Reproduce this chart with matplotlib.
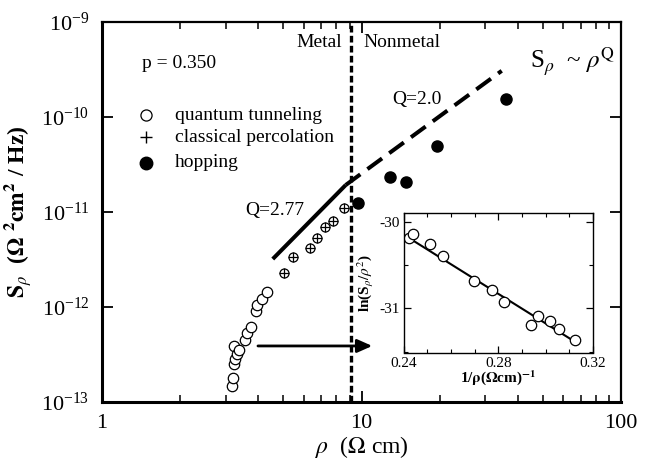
import matplotlib
matplotlib.use("Agg")
import matplotlib.pyplot as plt
import numpy as np
from matplotlib.ticker import (LogLocator, NullFormatter, NullLocator, MultipleLocator,
                               FixedLocator, FixedFormatter, LogFormatterMathtext)

plt.rcParams['font.family'] = ['Liberation Serif', 'DejaVu Serif']
plt.rcParams['mathtext.fontset'] = 'stix'

# ---- data ----
tunnel_rho = [3.18, 3.21, 3.23, 3.26, 3.23, 3.32, 3.38, 3.56, 3.63, 3.74, 3.92, 3.97, 4.12, 4.34]
tunnel_S = [1.49e-13, 1.80e-13, 2.51e-13, 2.84e-13, 3.89e-13, 3.20e-13, 3.53e-13, 4.5e-13,
            5.3e-13, 6.1e-13, 9.1e-13, 1.04e-12, 1.2e-12, 1.45e-12]
perc_rho = [5.04, 5.46, 6.33, 6.72, 7.23, 7.79, 8.58]
perc_S = [2.30e-12, 3.34e-12, 4.15e-12, 5.29e-12, 6.9e-12, 8.0e-12, 1.09e-11]
hop_rho = [9.72, 12.9, 14.85, 19.5, 35.9]
hop_S = [1.25e-11, 2.35e-11, 2.08e-11, 4.95e-11, 1.53e-10]

# power-law guide lines S ~ rho^Q
Q_metal = 2.77
metal_rho = [4.55, 8.69]
metal_S0 = 3.2e-12
Q_nonmetal = 2.0
nonmetal_rho = [8.69, 34.7]
rho_c = 9.1   # metal / nonmetal boundary

x_ticks = [1, 10, 100]
x_ticklabels = ['1', '10', '100']
y_ticks = [1e-13, 1e-12, 1e-11, 1e-10, 1e-9]

# inset: ln(S/rho^2) vs 1/rho
inv_rho = [0.2424, 0.2442, 0.2513, 0.2566, 0.2699, 0.2775, 0.2825, 0.2939, 0.2969, 0.3019, 0.3057, 0.3124]
ln_S = [-30.18, -30.14, -30.26, -30.39, -30.68, -30.79, -30.93, -31.19, -31.09, -31.15, -31.24, -31.36]
fit_x = [0.2414, 0.3103]
fit_y = [-30.17, -31.35]
inset_xticks = [0.24, 0.28, 0.32]
inset_xticklabels = ['0.24', '0.28', '0.32']
inset_yticks = [-31, -30]
inset_yticklabels = ['-31', '-30']

W, H = 659, 466
fig = plt.figure(figsize=(W / 100, H / 100), dpi=100)
ax = fig.add_axes([102 / W, (H - 402) / H, (621 - 102) / W, (402 - 22) / H])
ax.set_xscale('log')
ax.set_yscale('log')
ax.set_xlim(1, 100)
ax.set_ylim(1e-13, 1e-9)

for s in ax.spines.values():
    s.set_linewidth(1.6)
ax.spines['left'].set_linewidth(2.2)
ax.spines['bottom'].set_linewidth(2.2)

ax.xaxis.set_major_locator(FixedLocator(x_ticks))
ax.xaxis.set_major_formatter(FixedFormatter(x_ticklabels))
ax.xaxis.set_minor_locator(FixedLocator([m * d for d in (1, 10) for m in range(2, 10)]))
ax.xaxis.set_minor_formatter(NullFormatter())
ax.yaxis.set_major_locator(FixedLocator(y_ticks))
ax.yaxis.set_major_formatter(LogFormatterMathtext())
ax.yaxis.set_minor_locator(NullLocator())
ax.yaxis.set_minor_formatter(NullFormatter())
ax.tick_params(which='major', direction='in', length=8, width=1.3, labelsize=16,
               top=True, right=True, pad=9)
ax.tick_params(which='minor', direction='in', length=5, width=1.1, top=True, right=False, left=False)

# data
ax.plot(tunnel_rho, tunnel_S, 'o', ms=7.5, mfc='white', mec='black', mew=0.9, zorder=4)
ax.plot(perc_rho, perc_S, 'o', ms=6.5, mfc='white', mec='black', mew=0.9, zorder=4)
ax.plot(perc_rho, perc_S, '+', ms=6.5, color='black', mew=0.9, zorder=5)
ax.plot(hop_rho, hop_S, 'o', ms=8, color='black', zorder=4)

r1 = np.array(metal_rho)
ax.plot(r1, metal_S0 * (r1 / r1[0]) ** Q_metal, '-', color='black', lw=2.9, solid_capstyle='butt')
S_join = metal_S0 * (r1[1] / r1[0]) ** Q_metal
r2 = np.array(nonmetal_rho)
ln2, = ax.plot(r2, S_join * (r2 / r2[0]) ** Q_nonmetal, color='black', lw=2.9)
ln2.set_dashes([4.5, 2.2])
ln2.set_dash_capstyle('butt')

vl = ax.axvline(rho_c, color='black', lw=2.4, zorder=3)
vl.set_dashes([2, 1])

# arrow
ax.annotate('', xy=(11.0, 3.89e-13), xytext=(3.99, 3.89e-13),
            arrowprops=dict(arrowstyle='-|>,head_length=0.9,head_width=0.4', color='black', lw=2.0,
                            shrinkA=0, shrinkB=0), zorder=6)

# texts
ax.text(0.0765, 0.892, 'p = 0.350', transform=ax.transAxes, fontsize=14, ha='left', va='center')
leg_y = [0.755, 0.697, 0.629]
ax.plot([0.0848], [leg_y[0]], 'o', ms=8, mfc='white', mec='black', mew=0.9, transform=ax.transAxes, clip_on=False)
ax.plot([0.0848], [leg_y[1]], '+', ms=8.5, color='black', mew=1.0, transform=ax.transAxes, clip_on=False)
ax.plot([0.0848], [leg_y[2]], 'o', ms=9, color='black', transform=ax.transAxes, clip_on=False)
for y, t in zip(leg_y, ['quantum tunneling', 'classical percolation', 'hopping']):
    ax.text(0.1407, y, t, transform=ax.transAxes, fontsize=14, ha='left', va='center')

ax.text(0.4624, 0.945, 'Metal', transform=ax.transAxes, fontsize=14, ha='right', va='center')
ax.text(0.503, 0.945, 'Nonmetal', transform=ax.transAxes, fontsize=14, ha='left', va='center')
ax.text(0.8247, 0.895, r'S$_{\rho}$  ~ $\rho^{\mathrm{Q}}$', transform=ax.transAxes, fontsize=18,
        ha='left', va='center')
ax.text(0.559, 0.795, 'Q=2.0', transform=ax.transAxes, fontsize=14, ha='left', va='center')
ax.text(0.2755, 0.505, 'Q=2.77', transform=ax.transAxes, fontsize=14, ha='left', va='center')

ax.set_xlabel(r'$\rho$  ($\Omega$ cm)', fontsize=17, labelpad=0)
ax.set_ylabel(r'$\mathbf{S}_{\rho}$  ($\mathbf{\Omega}$ $^{\mathbf{2}}$$\mathbf{cm}^{\mathbf{2}}$ / Hz)',
              fontsize=17, fontweight='bold', labelpad=5)

# ---- inset ----
axi = fig.add_axes([403.5 / W, (H - 352.5) / H, (593 - 403.5) / W, (352.5 - 213.3) / H])
axi.set_xlim(0.24, 0.32)
axi.set_ylim(-31.51, -29.90)
for s in axi.spines.values():
    s.set_linewidth(1.0)
axi.plot(fit_x, fit_y, '-', color='black', lw=1.5)
axi.plot(inv_rho, ln_S, 'o', ms=7.5, mfc='white', mec='black', mew=0.9)
axi.xaxis.set_major_locator(FixedLocator(inset_xticks))
axi.xaxis.set_major_formatter(FixedFormatter(inset_xticklabels))
axi.xaxis.set_minor_locator(FixedLocator([0.25, 0.26, 0.27, 0.29, 0.30, 0.31]))
axi.yaxis.set_major_locator(FixedLocator(inset_yticks))
axi.yaxis.set_major_formatter(FixedFormatter(inset_yticklabels))
axi.yaxis.set_minor_locator(FixedLocator([-30.5, -31.5]))
axi.tick_params(which='both', direction='in', top=True, right=True, labelsize=11, pad=3)
axi.tick_params(which='major', length=5, width=0.9)
axi.tick_params(which='minor', length=3, width=0.8)
axi.set_xlabel(r'1/$\mathbf{\rho}$($\mathbf{\Omega}$cm)$^{\mathbf{-1}}$', fontsize=11, fontweight='bold', labelpad=-1)
axi.set_ylabel(r'ln(S$_{\rho}$/$\rho^{2}$)', fontsize=11, fontweight='bold', labelpad=2)

fig.savefig('out.png', dpi=100)
